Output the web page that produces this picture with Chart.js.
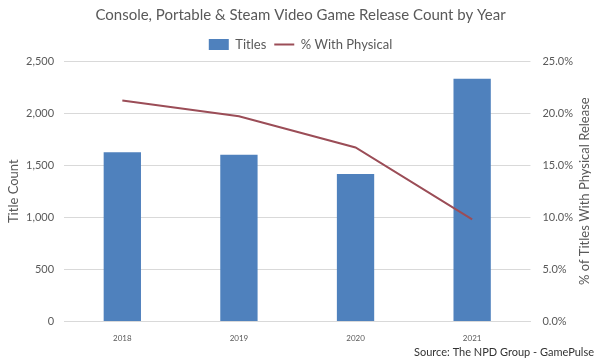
<!DOCTYPE html>
<html>
<head>
<meta charset="utf-8">
<script src="https://cdn.jsdelivr.net/npm/chart.js@4"></script>
<style>
  html, body { margin: 0; padding: 0; background: #fff; }
  #wrap { width: 596px; height: 359px; }
</style>
</head>
<body>
<div id="wrap"><canvas id="myChart" width="596" height="359"></canvas></div>
<script>
const years = ['2018', '2019', '2020', '2021'];
const titles = [1625, 1600, 1415, 2330];
const pctPhysical = [21.2, 19.7, 16.7, 9.8];
const countTicks = [0, 500, 1000, 1500, 2000, 2500];
const pctTicks = [0, 5, 10, 15, 20, 25];

const grey = '#595959';
const font = 'Lato, "Open Sans", sans-serif';

// axis titles drawn by hand (right one reads bottom-to-top) plus source note
const extras = {
  id: 'extras',
  afterDraw(chart) {
    const ctx = chart.ctx;
    const area = chart.chartArea;
    const midY = (area.top + area.bottom) / 2;
    ctx.save();
    ctx.fillStyle = grey;
    ctx.font = '13px ' + font;
    ctx.textAlign = 'center';
    ctx.textBaseline = 'middle';
    ctx.translate(14, midY);
    ctx.rotate(-Math.PI / 2);
    ctx.fillText('Title Count', 0, 0);
    ctx.restore();

    ctx.save();
    ctx.fillStyle = grey;
    ctx.font = '13px ' + font;
    ctx.textAlign = 'center';
    ctx.textBaseline = 'middle';
    ctx.translate(585, midY);
    ctx.rotate(-Math.PI / 2);
    ctx.fillText('% of Titles With Physical Release', 0, 0);
    ctx.restore();

    ctx.save();
    ctx.fillStyle = '#333';
    ctx.font = '11px ' + font;
    ctx.textAlign = 'right';
    ctx.textBaseline = 'middle';
    ctx.fillText('Source: The NPD Group - GamePulse', 594, 352);
    ctx.restore();
  }
};

const chartRef = document.getElementById('myChart').getContext('2d');
new Chart(chartRef, {
  data: {
    labels: years,
    datasets: [
      {
        type: 'line',
        label: '% With Physical',
        data: pctPhysical,
        yAxisID: 'yPct',
        borderColor: '#9B4D57',
        backgroundColor: '#9B4D57',
        borderWidth: 2,
        pointRadius: 0,
        pointStyle: 'line',
        tension: 0,
        order: 0
      },
      {
        type: 'bar',
        label: 'Titles',
        data: titles,
        yAxisID: 'yCount',
        backgroundColor: '#4F81BD',
        pointStyle: 'rect',
        barPercentage: 0.64,
        categoryPercentage: 0.5,
        order: 1
      }
    ]
  },
  options: {
    responsive: false,
    animation: false,
    layout: { padding: { left: 16, right: 11, top: 0, bottom: 12 } },
    plugins: {
      title: {
        display: true,
        text: 'Console, Portable & Steam Video Game Release Count by Year',
        color: grey,
        font: { family: font, size: 15, weight: 'normal' },
        padding: { top: 6, bottom: 6 }
      },
      legend: {
        display: true,
        reverse: true,
        labels: {
          color: grey,
          font: { family: font, size: 13 },
          usePointStyle: true,
          pointStyleWidth: 20,
          boxHeight: 11,
          padding: 8
        }
      },
      tooltip: { enabled: false }
    },
    scales: {
      x: {
        grid: { display: false },
        border: { color: '#d9d9d9' },
        ticks: { color: grey, font: { family: font, size: 8 }, padding: 4 }
      },
      yCount: {
        position: 'left',
        min: 0,
        max: 2500,
        afterBuildTicks: (axis) => { axis.ticks = countTicks.map(v => ({ value: v })); },
        ticks: {
          color: grey,
          font: { family: font, size: 11 },
          padding: 10,
          callback: (v) => v.toLocaleString('en-US')
        },
        grid: { color: '#d9d9d9', drawTicks: false },
        border: { display: false }
      },
      yPct: {
        position: 'right',
        min: 0,
        max: 25,
        afterBuildTicks: (axis) => { axis.ticks = pctTicks.map(v => ({ value: v })); },
        ticks: {
          color: grey,
          font: { family: font, size: 11 },
          padding: 12,
          callback: (v) => v.toFixed(1) + '%'
        },
        grid: { display: false, drawTicks: false },
        border: { display: false }
      }
    }
  },
  plugins: [extras]
});
</script>
</body>
</html>
